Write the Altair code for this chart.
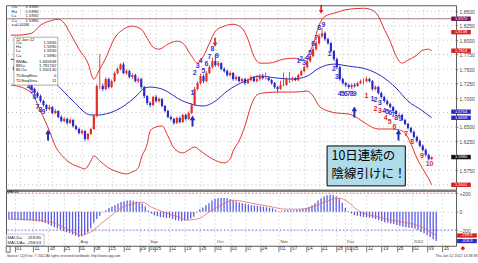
import altair as alt
import pandas as pd

# ---------------- data ----------------
days = list(range(-2, 140))
opens = [1.7530, 1.7500, 1.7431, 1.7396, 1.7327, 1.7293, 1.7224, 1.7155, 1.7086, 1.7034,
         1.6948, 1.6879, 1.6810, 1.6844, 1.6741, 1.6776, 1.6672, 1.6603, 1.6638, 1.6569,
         1.6620, 1.6517, 1.6465, 1.6396, 1.6431, 1.6293, 1.6379, 1.6465, 1.6689, 1.7207,
         1.7210, 1.7155, 1.7327, 1.7189, 1.7293, 1.7431, 1.7500, 1.7580, 1.7431, 1.7465,
         1.7362, 1.7396, 1.7293, 1.7327, 1.7189, 1.7034, 1.6913, 1.6879, 1.7017, 1.6948,
         1.6982, 1.6862, 1.6776, 1.6672, 1.6638, 1.6569, 1.6655, 1.6586, 1.6707, 1.6638,
         1.6741, 1.6879, 1.7155, 1.7258, 1.7379, 1.7293, 1.7431, 1.7534, 1.7638, 1.7569,
         1.7603, 1.7500, 1.7465, 1.7396, 1.7431, 1.7327, 1.7362, 1.7293, 1.7327, 1.7258,
         1.7310, 1.7362, 1.7293, 1.7327, 1.7379, 1.7344, 1.7346, 1.7310, 1.7258, 1.7189,
         1.7155, 1.7224, 1.7226, 1.7327, 1.7329, 1.7344, 1.7310, 1.7396, 1.7465, 1.7534,
         1.7638, 1.7724, 1.7844, 1.7948, 1.8069, 1.8120, 1.8017, 1.7948, 1.7810, 1.7672,
         1.7534, 1.7327, 1.7258, 1.7224, 1.7189, 1.7224, 1.7207, 1.7258, 1.7293, 1.7291,
         1.7327, 1.7293, 1.7155, 1.7189, 1.7086, 1.7017, 1.6948, 1.6896, 1.6844, 1.6776,
         1.6690, 1.6707, 1.6620, 1.6551, 1.6483, 1.6414, 1.6327, 1.6258, 1.6172, 1.6103,
         1.6017, 1.5945]
highs = [1.7560, 1.7520, 1.7460, 1.7420, 1.7350, 1.7320, 1.7250, 1.7180, 1.7110, 1.7060,
         1.6970, 1.6900, 1.6880, 1.6860, 1.6810, 1.6790, 1.6700, 1.6670, 1.6660, 1.6650,
         1.6640, 1.6540, 1.6490, 1.6460, 1.6450, 1.6400, 1.6490, 1.6720, 1.7240, 1.7760,
         1.7250, 1.7360, 1.7350, 1.7320, 1.7460, 1.7530, 1.7600, 1.7620, 1.7500, 1.7490,
         1.7430, 1.7420, 1.7360, 1.7350, 1.7210, 1.7050, 1.6940, 1.7040, 1.7050, 1.7010,
         1.7000, 1.6880, 1.6800, 1.6700, 1.6660, 1.6680, 1.6680, 1.6730, 1.6730, 1.6770,
         1.6910, 1.7190, 1.7290, 1.7420, 1.7410, 1.7460, 1.7570, 1.7700, 1.7760, 1.7640,
         1.7620, 1.7530, 1.7490, 1.7460, 1.7450, 1.7390, 1.7380, 1.7350, 1.7350, 1.7340,
         1.7390, 1.7380, 1.7400, 1.7410, 1.7420, 1.7440, 1.7370, 1.7330, 1.7280, 1.7210,
         1.7300, 1.7440, 1.7360, 1.7450, 1.7370, 1.7360, 1.7420, 1.7490, 1.7560, 1.7670,
         1.7760, 1.7880, 1.7990, 1.8110, 1.8210, 1.8150, 1.8040, 1.7970, 1.7830, 1.7700,
         1.7560, 1.7350, 1.7280, 1.7250, 1.7250, 1.7260, 1.7280, 1.7320, 1.7340, 1.7370,
         1.7350, 1.7310, 1.7220, 1.7210, 1.7110, 1.7040, 1.6970, 1.6920, 1.6860, 1.6800,
         1.6740, 1.6730, 1.6640, 1.6570, 1.6500, 1.6440, 1.6350, 1.6280, 1.6200, 1.6130,
         1.6040, 1.5990]
lows = [1.7470, 1.7410, 1.7370, 1.7300, 1.7260, 1.7200, 1.7130, 1.7060, 1.7000, 1.6920,
        1.6850, 1.6780, 1.6790, 1.6720, 1.6720, 1.6650, 1.6580, 1.6580, 1.6540, 1.6550,
        1.6490, 1.6440, 1.6370, 1.6370, 1.6260, 1.6270, 1.6360, 1.6450, 1.6670, 1.7150,
        1.7120, 1.7130, 1.7160, 1.7170, 1.7270, 1.7410, 1.7480, 1.7410, 1.7400, 1.7340,
        1.7330, 1.7270, 1.7260, 1.7160, 1.7000, 1.6880, 1.6840, 1.6860, 1.6920, 1.6920,
        1.6840, 1.6750, 1.6650, 1.6610, 1.6540, 1.6550, 1.6560, 1.6570, 1.6610, 1.6620,
        1.6720, 1.6860, 1.7130, 1.7230, 1.7260, 1.7270, 1.7410, 1.7510, 1.7540, 1.7540,
        1.7480, 1.7440, 1.7370, 1.7370, 1.7300, 1.7300, 1.7270, 1.7270, 1.7230, 1.7240,
        1.7290, 1.7270, 1.7270, 1.7300, 1.7320, 1.7320, 1.7290, 1.7230, 1.7160, 1.7100,
        1.7140, 1.7200, 1.7210, 1.7260, 1.7280, 1.7290, 1.7290, 1.7380, 1.7440, 1.7510,
        1.7610, 1.7700, 1.7820, 1.7920, 1.8040, 1.7990, 1.7920, 1.7780, 1.7640, 1.7500,
        1.7300, 1.7230, 1.7190, 1.7160, 1.7160, 1.7180, 1.7190, 1.7240, 1.7230, 1.7270,
        1.7270, 1.7130, 1.7130, 1.7060, 1.6990, 1.6920, 1.6870, 1.6820, 1.6750, 1.6700,
        1.6670, 1.6600, 1.6530, 1.6460, 1.6390, 1.6300, 1.6230, 1.6150, 1.6080, 1.5990,
        1.5920, 1.5930]
closes = [1.7500, 1.7431, 1.7396, 1.7327, 1.7293, 1.7224, 1.7155, 1.7086, 1.7034, 1.6948,
          1.6879, 1.6810, 1.6844, 1.6741, 1.6776, 1.6672, 1.6603, 1.6638, 1.6569, 1.6620,
          1.6517, 1.6465, 1.6396, 1.6431, 1.6293, 1.6379, 1.6465, 1.6689, 1.7207, 1.7210,
          1.7155, 1.7327, 1.7189, 1.7293, 1.7431, 1.7500, 1.7580, 1.7431, 1.7465, 1.7362,
          1.7396, 1.7293, 1.7327, 1.7189, 1.7034, 1.6913, 1.6879, 1.7017, 1.6948, 1.6982,
          1.6862, 1.6776, 1.6672, 1.6638, 1.6569, 1.6655, 1.6586, 1.6707, 1.6638, 1.6741,
          1.6879, 1.7155, 1.7258, 1.7379, 1.7293, 1.7431, 1.7534, 1.7638, 1.7569, 1.7603,
          1.7500, 1.7465, 1.7396, 1.7431, 1.7327, 1.7362, 1.7293, 1.7327, 1.7258, 1.7310,
          1.7362, 1.7293, 1.7327, 1.7379, 1.7344, 1.7346, 1.7310, 1.7258, 1.7189, 1.7155,
          1.7224, 1.7226, 1.7327, 1.7329, 1.7344, 1.7310, 1.7396, 1.7465, 1.7534, 1.7638,
          1.7724, 1.7844, 1.7948, 1.8069, 1.8120, 1.8017, 1.7948, 1.7810, 1.7672, 1.7534,
          1.7327, 1.7258, 1.7224, 1.7189, 1.7224, 1.7207, 1.7258, 1.7293, 1.7291, 1.7327,
          1.7293, 1.7155, 1.7189, 1.7086, 1.7017, 1.6948, 1.6896, 1.6844, 1.6776, 1.6724,
          1.6707, 1.6620, 1.6551, 1.6483, 1.6414, 1.6327, 1.6258, 1.6172, 1.6103, 1.6017,
          1.5944, 1.5980]

# Bollinger bands (read at sample days)
ub_i = [-3, -1, 4, 7, 11, 13, 15, 17, 20, 23, 25, 27, 29, 32, 35, 38, 41, 43, 45, 47,
        50, 53, 55, 58, 60, 62, 64, 66, 69, 72, 75, 77, 79, 81, 84, 89, 93, 95, 97, 99,
        101, 103, 106, 111, 116, 119, 121, 123, 125, 127, 129, 131, 134, 136, 138, 139]
ub_v = [1.8086, 1.8086, 1.8120, 1.8258, 1.8344, 1.8362, 1.8293, 1.8120, 1.7844, 1.7603,
        1.7327, 1.7500, 1.7689, 1.8034, 1.8189, 1.8241, 1.8189, 1.8034, 1.7879, 1.7844,
        1.7931, 1.7982, 1.7948, 1.7724, 1.7603, 1.7724, 1.7948, 1.8155, 1.8241, 1.8275,
        1.8207, 1.8017, 1.7724, 1.7603, 1.7603, 1.7672, 1.7689, 1.7655, 1.7724, 1.7931,
        1.8258, 1.8413, 1.8465, 1.8534, 1.8551, 1.8517, 1.8413, 1.8189, 1.7982, 1.7724,
        1.7603, 1.7655, 1.7741, 1.7827, 1.7844, 1.7818]
mb_i = [-3, 4, 8, 12, 18, 24, 27, 29, 34, 40, 42, 44, 48, 55, 62, 66, 70, 76, 81, 87,
        92, 97, 101, 106, 111, 117, 122, 127, 131, 136, 139]
mb_v = [1.7672, 1.7569, 1.7431, 1.7258, 1.6948, 1.6707, 1.6707, 1.6724, 1.6827, 1.7069,
        1.7172, 1.7189, 1.7155, 1.6948, 1.6862, 1.6948, 1.7121, 1.7293, 1.7379, 1.7344,
        1.7327, 1.7379, 1.7517, 1.7586, 1.7551, 1.7500, 1.7379, 1.7172, 1.6948, 1.6776,
        1.6659]
lb_i = [-3, -1, 4, 7, 10, 12, 15, 17, 20, 22, 24, 25, 27, 30, 33, 36, 38, 40, 41, 43,
        44, 46, 48, 50, 52, 55, 57, 59, 61, 65, 69, 71, 72, 74, 76, 78, 80, 82, 87, 93,
        97, 99, 101, 104, 107, 111, 114, 117, 121, 125, 128, 130, 132, 134, 136, 138, 139]
lb_v = [1.7224, 1.7207, 1.7086, 1.6776, 1.6431, 1.6172, 1.5965, 1.5879, 1.5810, 1.5776,
        1.5914, 1.6000, 1.5914, 1.5793, 1.5724, 1.5689, 1.5724, 1.5793, 1.5965, 1.6207,
        1.6431, 1.6500, 1.6517, 1.6345, 1.6138, 1.6051, 1.6103, 1.6155, 1.6086, 1.5948,
        1.5879, 1.5948, 1.6086, 1.6258, 1.6517, 1.6862, 1.7052, 1.7086, 1.7103, 1.7103,
        1.7121, 1.7034, 1.6862, 1.6776, 1.6741, 1.6724, 1.6655, 1.6551, 1.6465, 1.6465,
        1.6448, 1.6396, 1.6207, 1.5965, 1.5776, 1.5603, 1.5501]

# MACD histogram (one per day) and signal line
macd = [-85, -88, -90, -92, -94, -95, -97, -99, -101, -104,
        -108, -112, -124, -138, -152, -168, -182, -196, -210, -222,
        -232, -248, -262, -275, -268, -254, -225, -180, -120, -80,
        -45, -8, 16, 38, 55, 70, 88, 103, 112, 120,
        124, 118, 110, 100, 88, 55, 12, -20, -38, -50,
        -59, -63, -67, -70, -80, -92, -98, -103, -100, -92,
        -75, -55, -10, 25, 45, 68, 92, 120, 140, 146,
        148, 147, 145, 135, 124, 112, 100, 92, 85, 78,
        70, 66, 62, 59, 54, 48, 42, 36, 20, 6,
        10, 16, 16, 15, 16, 20, 26, 30, 40, 50,
        70, 92, 120, 146, 165, 178, 182, 178, 165, 146,
        95, 40, 8, -20, -38, -45, -52, -59, -62, -66,
        -70, -80, -92, -103, -114, -120, -128, -135, -145, -155,
        -165, -170, -175, -178, -185, -200, -222, -235, -254, -275,
        -298, -318.85]
sg_i = [-2, 6, 12, 18, 22, 25, 29, 32, 35, 40, 42, 45, 49, 54, 57, 61, 64, 68, 72, 78,
        85, 89, 94, 98, 102, 107, 110, 113, 115, 120, 124, 128, 133, 135, 137, 139]
sg_v = [-80, -90, -115, -200, -254, -222, -114, -38, 38, 92, 103, 49, -5, -59, -92, -70,
        -5, 70, 124, 92, 49, 27, 27, 49, 103, 146, 103, 16, -16, -59, -92, -114, -150,
        -180, -220, -258.63]

# TD sequential counts
tdb_i = [3, 4, 5, 6, 7, 8,
         58.3, 59, 60, 61, 62, 63, 64, 65, 66.5,
         94, 95, 96, 97, 98, 99, 100, 101, 102.5,
         104.5, 106, 107, 108, 109, 110, 111, 112, 113,
         119, 120, 121.5, 123, 124, 125, 126, 127, 128.5]
tdb_v = [1.7189, 1.7121, 1.7017, 1.6844, 1.6793, 1.6758,
         1.7086, 1.7431, 1.7552, 1.7638, 1.7465, 1.7586, 1.7707, 1.7844, 1.7724,
         1.7638, 1.7672, 1.7603, 1.7689, 1.7776, 1.7931, 1.8034, 1.8207, 1.8258,
         1.7758, 1.7500, 1.7362, 1.7069, 1.7069, 1.7069, 1.7069, 1.7069, 1.7069,
         1.6982, 1.6965, 1.6913, 1.6776, 1.6758, 1.6741, 1.6707, 1.6655, 1.6638]
tdb_t = ["4", "5", "6", "7", "8", "9",
         "1", "2", "3", "4", "5", "6", "7", "8", "9",
         "1", "2", "3", "4", "5", "6", "7", "8", "9",
         "1", "2", "3", "4", "5", "6", "7", "8", "9",
         "1", "2", "3", "4", "5", "6", "7", "8", "9"]
tdr_i = [117, 120, 121.5, 123.5, 124.8, 126.4, 130.4, 132.4, 135.7, 138.3]
tdr_v = [1.7034, 1.6810, 1.6776, 1.6655, 1.6586, 1.6500, 1.6379, 1.6241, 1.6000, 1.5862]
tdr_t = ["1", "2", "3", "4", "5", "6", "7", "8", "9", "10"]

up_i = [9.55, 58.3, 112.9, 127.8]
up_v = [1.6362, 1.6603, 1.6758, 1.6362]
dn_i = [65.9, 101.7]
dn_v = [1.7965, 1.8534]

hline_val = 1.8370
price_grid = [1.55, 1.575, 1.60, 1.625, 1.65, 1.675, 1.70, 1.725, 1.75, 1.775, 1.80, 1.825, 1.85]
price_lbls = [1.575, 1.625, 1.65, 1.70, 1.725, 1.75, 1.775, 1.80, 1.825, 1.85]
macd_ticks = [-200, 0, 200]

tick_idx = [0, 6, 11, 16, 21, 26, 31, 36, 41, 44, 46, 51, 56, 61, 66, 71, 76, 81, 87, 91,
            96, 101, 106, 109, 111, 116, 121, 126, 131, 136, 141]
tick_lbl = ["01", "11", "18", "25", "01", "08", "15", "22", "29", "01", "05", "12", "19",
            "26", "03", "10", "17", "24", "01", "07", "14", "21", "28", "01", "05", "12",
            "19", "26", "02", "09", "16"]
month_lbl = ["Aug", "Sep", "Oct", "Nov", "Dec", "2012"]
month_idx = [21, 44, 66, 87, 109, 131]

rb_v = [1.8370, 1.8138, 1.7818, 1.6764, 1.6659, 1.5980, 1.5501]
rb_t = ["1.8370", "1.8138", "1.7818", "1.6764", "1.6659", "1.5980", "1.5501"]
rb_k = ["line", "upper", "upper", "mid", "mid", "close", "lower"]
mb_box_v = [-258.6, -318.9]
mb_box_k = ["signal", "macd"]

ohlc_lbl = ["O=", "H=", "L=", "C="]
ohlc_val = ["1.5945", "1.5990", "1.5930", "1.5980"]
chg_txt = "±=0.0036"
info_lbl = ["O=", "H=", "L=", "C=", "BMA=", "BKI=", "BLO=", "TDSeqBin=", "TDSeqSin="]
info_val = ["1.5945", "1.5990", "1.5930", "1.5980", "1.665948", "1.781762", "1.550130", "0", "11"]
info_date = "12  Jan  12"
macd_lbl = ["MACD=", "MACDA="]
macd_val = ["-318.85", "-258.63"]
note_lines = ["10日連続の", "陰線引けに！"]
source_txt = "Source: CQG Inc. © 2012 All rights reserved worldwide. http://www.cqg.com"
stamp_txt = "Thu Jan 12 2012 14:38:39"

# ---------------- layout ----------------
W, HM, HD = 451, 186, 55
X_DOM = [-2.963, 145.54]
YM_DOM = [1.5396, 1.8603]
YD_DOM = [-369.7, 224.8]
FONT = "Liberation Sans"
BLUE = "#3535d0"
RED = "#e02828"
GRID = "#b0b0b0"

xs = alt.Scale(domain=X_DOM, nice=False, zero=False)
yms = alt.Scale(domain=YM_DOM, nice=False, zero=False)
yds = alt.Scale(domain=YD_DOM, nice=False, zero=False)
grid_kw = dict(gridColor=GRID, gridDash=[1, 3], gridWidth=0.8)

x_axis_main = alt.Axis(values=tick_idx, labels=False, ticks=False, domain=False,
                       grid=True, title=None, **grid_kw)
y_axis_main = alt.Axis(orient="right", values=price_lbls, format=".4f", labelFontSize=5,
                       labelColor="#4a4a4a", labelFont=FONT, tickSize=1.5, tickColor="#777777",
                       labelPadding=1.5, domain=False, grid=False, title=None)
x_axis_macd = alt.Axis(values=tick_idx, labels=False, tickSize=6, tickColor="#555555",
                       tickWidth=0.8, domain=False, grid=True, title=None, **grid_kw)
y_axis_macd = alt.Axis(orient="right", values=macd_ticks,
                       labelExpr="datum.value > 0 ? '+' + datum.label : datum.label",
                       labelFontSize=5, labelColor="#4a4a4a", labelFont=FONT, tickSize=1.5,
                       tickColor="#777777", labelPadding=1.5, domain=False, grid=True,
                       title=None, **grid_kw)


def XM(f):
    return alt.X(f, type="quantitative", scale=xs, axis=x_axis_main)


def YM(f):
    return alt.Y(f, type="quantitative", scale=yms, axis=y_axis_main)


def XD(f):
    return alt.X(f, type="quantitative", scale=xs, axis=x_axis_macd)


def YD(f):
    return alt.Y(f, type="quantitative", scale=yds, axis=y_axis_macd)


def txt(df_, enc_x, enc_y, **kw):
    return alt.Chart(df_).mark_text(**kw).encode(x=enc_x("i"), y=enc_y("v"), text="t:N")


# ---------------- main panel ----------------
df = pd.DataFrame({"i": days, "o": opens, "h": highs, "l": lows, "c": closes})
df["dir"] = ["flat" if abs(c - o) < 0.0005 else ("up" if c > o else "down")
             for o, c in zip(opens, closes)]
dir_scale = alt.Scale(domain=["up", "down", "flat"], range=["#39ad39", "#a8161a", "#9c9c9c"])

hgrid = alt.Chart(pd.DataFrame({"v": price_grid})).mark_rule(
    color=GRID, strokeDash=[1, 3], strokeWidth=0.8).encode(y=YM("v"))
hline = alt.Chart(pd.DataFrame({"v": [hline_val]})).mark_rule(
    color="#8b5a6b", strokeWidth=0.8).encode(y=YM("v"))

bands_df = pd.concat([
    pd.DataFrame({"i": ub_i, "v": ub_v, "b": "upper"}),
    pd.DataFrame({"i": mb_i, "v": mb_v, "b": "mid"}),
    pd.DataFrame({"i": lb_i, "v": lb_v, "b": "lower"}),
])
bands = alt.Chart(bands_df).mark_line(clip=True, interpolate="monotone", strokeWidth=1).encode(
    x=XM("i"), y=YM("v"), detail="b:N",
    color=alt.Color("b:N", scale=alt.Scale(domain=["upper", "mid", "lower"],
                                           range=["#e2302b", "#2b2bc4", "#e2302b"]), legend=None))

wick = alt.Chart(df).mark_rule(strokeWidth=0.9).encode(
    x=XM("i"), y=YM("l"), y2="h", color=alt.Color("dir:N", scale=dir_scale, legend=None))
body = alt.Chart(df).mark_bar(size=2.2).encode(
    x=XM("i"), y=YM("o"), y2="c", color=alt.Color("dir:N", scale=dir_scale, legend=None))

td_blue = txt(pd.DataFrame({"i": tdb_i, "v": tdb_v, "t": tdb_t}), XM, YM,
              fontSize=7, fontWeight="bold", font=FONT, color=BLUE)
td_red = txt(pd.DataFrame({"i": tdr_i, "v": tdr_v, "t": tdr_t}), XM, YM,
             fontSize=7, fontWeight="bold", font=FONT, color=RED)

UP_PATH = "M0,-1L0.5,-0.15L0.18,-0.15L0.18,1L-0.18,1L-0.18,-0.15L-0.5,-0.15Z"
DN_PATH = "M0,1L0.5,0.15L0.18,0.15L0.18,-1L-0.18,-1L-0.18,0.15L-0.5,0.15Z"
arr_up = alt.Chart(pd.DataFrame({"i": up_i, "v": up_v})).mark_point(
    shape=UP_PATH, filled=True, opacity=1, size=121, color="#1f2fb8", strokeWidth=0).encode(
    x=XM("i"), y=YM("v"))
arr_dn = alt.Chart(pd.DataFrame({"i": dn_i, "v": dn_v})).mark_point(
    shape=DN_PATH, filled=True, opacity=1, size=81, color="#e02020", strokeWidth=0).encode(
    x=XM("i"), y=YM("v"))

# info box (top-left)
small = dict(fontSize=4.2, font=FONT, color="#222222")
info_box = alt.Chart(pd.DataFrame({"x1": [-1.98], "x2": [12.84], "y1": [1.8051], "y2": [1.7224]})).mark_rect(
    fill="white", stroke="#8c8c8c", strokeWidth=0.7).encode(x=XM("x1"), x2="x2", y=YM("y1"), y2="y2")
info_rows = [1.7943, 1.7874, 1.7805, 1.7732, 1.7620, 1.7551, 1.7477, 1.7379, 1.7301]
info_l = txt(pd.DataFrame({"i": [-1.3] * len(info_lbl), "v": info_rows, "t": info_lbl}), XM, YM,
             align="left", **small)
info_r = txt(pd.DataFrame({"i": [12.35] * len(info_val), "v": info_rows, "t": info_val}), XM, YM,
             align="right", **small)
info_d = txt(pd.DataFrame({"i": [-1.3], "v": [1.8008], "t": [info_date]}), XM, YM, align="left", **small)

# top-left OHLC readout
tl_rows = [1.8569, 1.8491, 1.8413, 1.8336]
tl_l = txt(pd.DataFrame({"i": [-2.75] * 4, "v": tl_rows, "t": ohlc_lbl}), XM, YM, align="left", **small)
tl_r = txt(pd.DataFrame({"i": [6.3] * 4, "v": tl_rows, "t": ohlc_val}), XM, YM, align="right", **small)
tl_c = txt(pd.DataFrame({"i": [-2.75], "v": [1.8258], "t": [chg_txt]}), XM, YM, align="left", **small)

# Japanese annotation
note_box = alt.Chart(pd.DataFrame({"x1": [103.7], "x2": [130.1], "y1": [1.6172], "y2": [1.5482]})).mark_rect(
    fill="#b0dcea", stroke="black", strokeWidth=1).encode(x=XM("x1"), x2="x2", y=YM("y1"), y2="y2")
note_txt = txt(pd.DataFrame({"i": [105.2, 105.2], "v": [1.5993, 1.5690], "t": note_lines}), XM, YM,
               align="left", baseline="middle", fontSize=12.5, font="Noto Sans CJK JP", color="black")

# right-hand value boxes
rb_col = {"line": "#6b1552", "upper": "#d82020", "mid": "#2a2ac8", "close": "#111111", "lower": "#d82020"}
rb_df = pd.DataFrame({"v": rb_v, "t": rb_t, "k": rb_k})
rb_df["v1"] = rb_df["v"] + 0.0038
rb_df["v2"] = rb_df["v"] - 0.0038
rb_df["x1"] = 145.6
rb_df["x2"] = 152.2
rb_df["i"] = 148.9
rb_df["col"] = [rb_col[k] for k in rb_k]
rboxes = alt.Chart(rb_df).mark_rect().encode(
    x=XM("x1"), x2="x2", y=YM("v1"), y2="v2", color=alt.Color("col:N", scale=None))
rtext = txt(rb_df, XM, YM, fontSize=4, font=FONT, color="white")

main = alt.layer(hgrid, hline, bands, wick, body, td_blue, td_red, arr_up, arr_dn,
                 info_box, info_l, info_r, info_d, tl_l, tl_r, tl_c,
                 note_box, note_txt, rboxes, rtext).properties(width=W, height=HM)

# ---------------- MACD panel ----------------
mdf = pd.DataFrame({"i": days, "m": macd})
ref_df = pd.DataFrame({"v": [200, -200], "k": ["pos", "neg"]})
refs = alt.Chart(ref_df).mark_rule(strokeDash=[1.5, 2], strokeWidth=0.8).encode(
    y=YD("v"), color=alt.Color("k:N", scale=alt.Scale(domain=["pos", "neg"], range=["#e25050", "#5050e0"]),
                               legend=None))
hist = alt.Chart(mdf).mark_rule(strokeWidth=1.3, color="#5a5ae6").encode(
    x=XD("i"), y=YD("m"), y2=alt.Y2(datum=0))
sig = alt.Chart(pd.DataFrame({"i": sg_i, "v": sg_v})).mark_line(
    color="#e56b6b", strokeWidth=0.8, interpolate="monotone").encode(x=XD("i"), y=YD("v"))
sep = alt.Chart(pd.DataFrame({"v": [YD_DOM[1]]})).mark_rule(strokeWidth=2.5, color="#7b7b7b").encode(y=YD("v"))

macd_title = txt(pd.DataFrame({"i": [-2.75], "v": [208], "t": ["MACD"]}), XD, YD, align="left", **small)
mbox = alt.Chart(pd.DataFrame({"x1": [-2.85], "x2": [9.6], "y1": [-243], "y2": [-366]})).mark_rect(
    fill="white", stroke="#9a9a9a", strokeWidth=0.6).encode(x=XD("x1"), x2="x2", y=YD("y1"), y2="y2")
m_rows = [-286, -336]
m_l = txt(pd.DataFrame({"i": [-2.5, -2.5], "v": m_rows, "t": macd_lbl}), XD, YD, align="left", **small)
m_r = txt(pd.DataFrame({"i": [8.6, 8.6], "v": m_rows, "t": macd_val}), XD, YD, align="right", **small)
months = txt(pd.DataFrame({"i": [m + 0.6 for m in month_idx], "v": [-330] * 6, "t": month_lbl}), XD, YD,
             align="left", fontSize=4.2, font=FONT, color="#444444")
day_lbls = txt(pd.DataFrame({"i": [t + 0.45 for t in tick_idx], "v": [-402] * len(tick_idx), "t": tick_lbl}),
               XD, YD, align="left", baseline="middle", fontSize=4.8, font=FONT, color="#333333")

mb_col = {"signal": "#d82020", "macd": "#2a2ac8"}
mbdf = pd.DataFrame({"v": mb_box_v, "k": mb_box_k})
mbdf["t"] = ["%.1f" % v for v in mb_box_v]
mbdf["v1"] = mbdf["v"] + 23
mbdf["v2"] = mbdf["v"] - 23
mbdf["x1"] = 145.9
mbdf["x2"] = 152.4
mbdf["i"] = 149.1
mbdf["col"] = [mb_col[k] for k in mb_box_k]
mboxes = alt.Chart(mbdf).mark_rect().encode(
    x=XD("x1"), x2="x2", y=YD("v1"), y2="v2", color=alt.Color("col:N", scale=None))
mbtext = txt(mbdf, XD, YD, fontSize=4, font=FONT, color="white")

src = txt(pd.DataFrame({"i": [-2.6], "v": [-483], "t": [source_txt]}), XD, YD,
          align="left", fontSize=3.4, font=FONT, color="#333333")
stamp = txt(pd.DataFrame({"i": [152.6], "v": [-483], "t": [stamp_txt]}), XD, YD,
            align="right", fontSize=3.6, font=FONT, color="#333333")
diamond = alt.Chart(pd.DataFrame({"i": [147.8], "v": [-397]})).mark_point(
    shape="diamond", filled=True, opacity=1, size=22, color="#e02020").encode(x=XD("i"), y=YD("v"))
sq = alt.Chart(pd.DataFrame({"x1": [-2.9], "x2": [-1.6], "y1": [-376], "y2": [-440]})).mark_rect(
    fill="white", stroke="#333333", strokeWidth=0.7).encode(x=XD("x1"), x2="x2", y=YD("y1"), y2="y2")

macd_chart = alt.layer(refs, hist, sig, sep, macd_title, mbox, m_l, m_r, months, day_lbls,
                       mboxes, mbtext, src, stamp, diamond, sq).properties(width=W, height=HD)

chart = alt.vconcat(main, macd_chart, spacing=0, bounds="flush").properties(
    padding={"left": 4, "top": 4, "right": 0, "bottom": 0},
    background="white",
).configure_view(stroke="#5a5a5a", strokeWidth=1).resolve_scale(color="independent")

chart.save("out.html", embed_options={"renderer": "svg", "actions": False})
